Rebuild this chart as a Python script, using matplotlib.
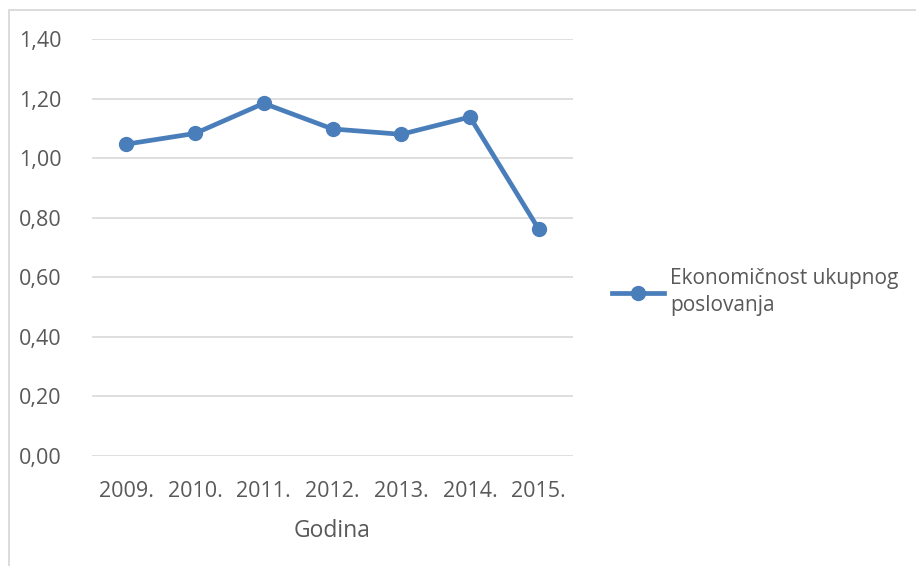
import matplotlib
matplotlib.use('Agg')
import matplotlib.pyplot as plt
from matplotlib.lines import Line2D
from matplotlib.patches import Rectangle

years = ['2009.', '2010.', '2011.', '2012.', '2013.', '2014.', '2015.']
values = [1.047, 1.083, 1.184, 1.098, 1.080, 1.138, 0.762]
yticks = [0.0, 0.2, 0.4, 0.6, 0.8, 1.0, 1.2, 1.4]
series_name = 'Ekonomičnost ukupnog\nposlovanja'

plt.rcParams['font.family'] = ['Open Sans', 'DejaVu Sans']
txt = '#595959'
blue = '#4a7ebb'

W, H = 916, 566
fig = plt.figure(figsize=(W / 100, H / 100), dpi=100)
ax = fig.add_axes([92 / W, 1 - 456 / H, (573 - 92) / W, (456 - 39) / H])

# chart frame (only left/top visible in the crop)
fig.patches.append(Rectangle((9 / W, -0.1), 1.2, 1 - 10 / H + 0.1,
                             transform=fig.transFigure, fill=False,
                             edgecolor='#d9d9d9', linewidth=1.3))

x = range(len(years))
ax.plot(x, values, '-o', color=blue, lw=3.4, markersize=10, solid_capstyle='round')
ax.set_xlim(-0.5, len(years) - 0.5)
ax.set_ylim(0, 1.4)
ax.set_yticks(yticks)
ax.set_yticklabels([('%.2f' % v).replace('.', ',') for v in yticks])
ax.set_xticks(list(x))
ax.set_xticklabels(years)
ax.tick_params(length=0, colors=txt, labelsize=15.5)
ax.tick_params(axis='y', pad=22)
ax.tick_params(axis='x', pad=18)
ax.grid(axis='y', color='#d9d9d9', lw=1.2)
ax.set_axisbelow(True)
for s in ax.spines.values():
    s.set_visible(False)
ax.set_xlabel('Godina', color=txt, fontsize=16.5, labelpad=12)

h = Line2D([], [], color=blue, lw=3.4, marker='o', markersize=10)
leg = fig.legend([h], [series_name], loc='center left', bbox_to_anchor=(612 / W, 1 - 292 / H),
                 frameon=False, fontsize=15, labelcolor=txt, handlelength=2.5,
                 handletextpad=0.3, borderaxespad=0, borderpad=0)
for t in leg.get_texts():
    t.set_linespacing(1.35)

fig.savefig('out.png', dpi=100)
